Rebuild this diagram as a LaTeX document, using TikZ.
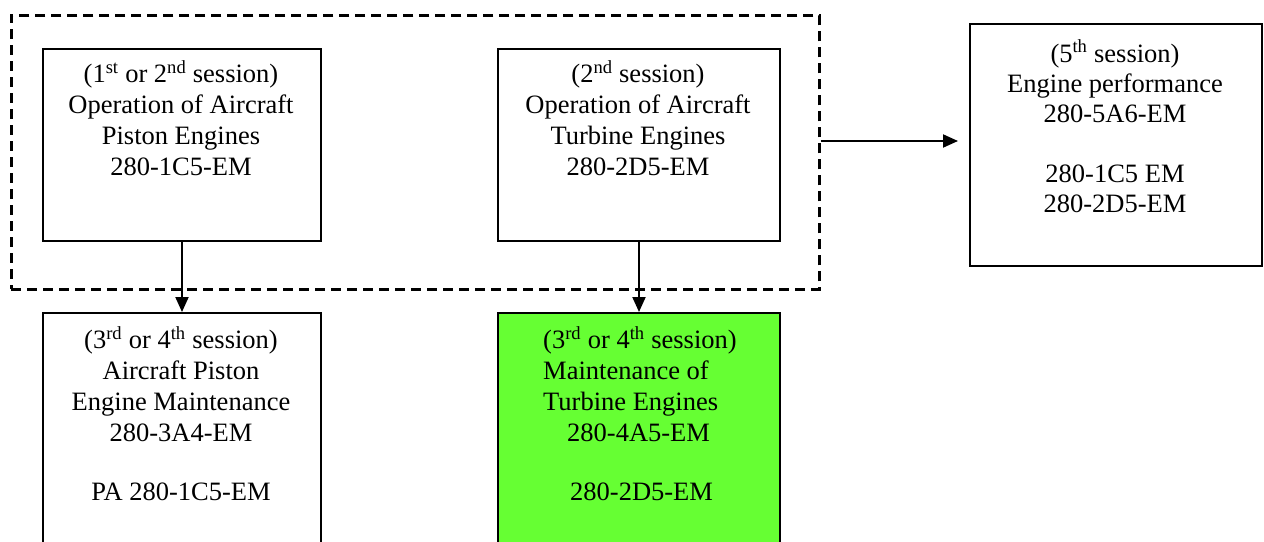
\documentclass[tikz,border=0pt]{standalone}
\usepackage{fontspec}
\setmainfont{Liberation Serif}
\usetikzlibrary{arrows.meta,calc}
\definecolor{boxgreen}{RGB}{102,255,51}
\begin{document}
\begin{tikzpicture}[x=1pt,y=-1pt,
 box/.style={draw=black,line width=2pt,rectangle,anchor=north west,inner sep=0pt},
 txt/.style={font=\fontsize{26.5}{30.8}\selectfont,align=center,anchor=base,inner sep=0pt},
 arr/.style={line width=2pt,-{Triangle[length=15pt,width=13pt]}},
 grp/.style={draw=black,line width=2.5pt,dash pattern=on 10pt off 6pt,rectangle,anchor=north west,inner sep=0pt}]
\useasboundingbox (0,0) rectangle (1264,541);
\node[grp,minimum width=808pt,minimum height=274pt] (grp) at (10,14) {};
\node[box,minimum width=278pt,minimum height=192pt] (A) at (42,48) {};
\node[box,minimum width=282pt,minimum height=192pt] (B) at (497,48) {};
\node[box,minimum width=292pt,minimum height=242pt] (E) at (969,23) {};
\node[box,minimum width=278pt,minimum height=260pt] (C) at (42,312) {};
\node[box,fill=boxgreen,minimum width=282pt,minimum height=260pt] (D) at (497,312) {};
\node[txt] (At) at (181,175) {(1\textsuperscript{st} or 2\textsuperscript{nd} session)\\Operation of Aircraft\\Piston Engines\\280-1C5-EM};
\node[txt] (Bt) at (638,175) {(2\textsuperscript{nd} session)\\Operation of Aircraft\\Turbine Engines\\280-2D5-EM};
\node[txt,font=\fontsize{26.5}{30}\selectfont] (Et) at (1115,212) {(5\textsuperscript{th} session)\\Engine performance\\280-5A6-EM\\[30pt]280-1C5 EM\\280-2D5-EM};
\node[txt] (Ct) at (181,500) {(3\textsuperscript{rd} or 4\textsuperscript{th} session)\\Aircraft Piston\\Engine Maintenance\\280-3A4-EM\\[28pt]PA 280-1C5-EM};
\node[txt,align=left,anchor=base west] (Dt) at (543,500) {(3\textsuperscript{rd} or 4\textsuperscript{th} session)\\Maintenance of\\Turbine Engines\\\hspace*{24pt}280-4A5-EM\\[28pt]\hspace*{27pt}280-2D5-EM};
\draw[arr] (A.south) -- (C.north);
\draw[arr] (B.south) -- (D.north);
\coordinate (g1) at (grp.east |- 0,141);
\draw[arr,shorten >=11pt] (g1) -- (E.west |- g1);
\end{tikzpicture}
\end{document}
